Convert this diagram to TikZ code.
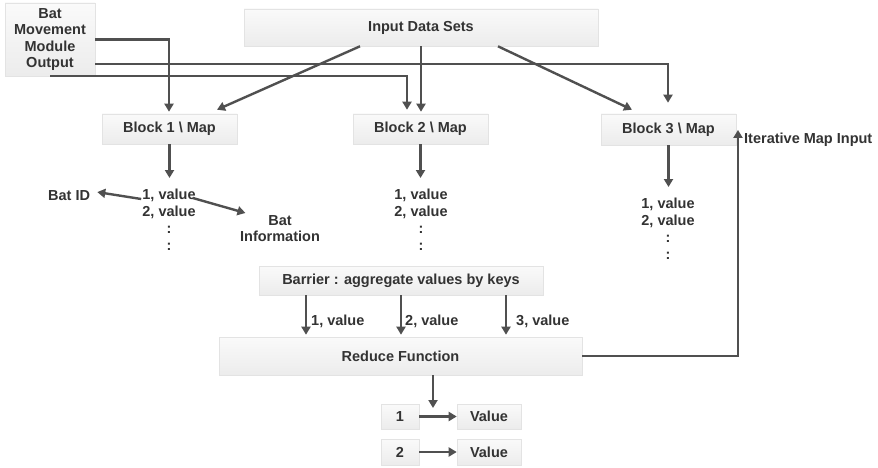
\documentclass[tikz,border=0pt]{standalone}
\usepackage{fontspec}
\setmainfont{Liberation Sans}
\usetikzlibrary{arrows.meta,calc}
\definecolor{ink}{HTML}{333333}
\definecolor{wire}{HTML}{505050}
\tikzset{
  box/.style={rectangle, draw=gray!22, line width=0.6pt, top color=gray!4, bottom color=gray!15,
    inner sep=0pt, text=ink, font=\fontsize{14.5pt}{16.5pt}\selectfont\bfseries, align=center},
  txt/.style={inner sep=0pt, text=ink, font=\fontsize{14.5pt}{16.8pt}\selectfont\bfseries, align=center},
  arr/.style={draw=wire, line width=2.4pt, -{Triangle[length=8pt,width=9pt]}},
}
\begin{document}
\begin{tikzpicture}[x=1pt,y=-1pt]
\fill[white] (0,0) rectangle (878,468);
\useasboundingbox (0,0) rectangle (878,468);

% boxes
\node[box, minimum width=90pt, minimum height=73pt] (bat) at (50,39.5) {Bat\\Movement\\Module\\Output};
\node[box, minimum width=354pt, minimum height=37pt] (input) at (421,27.5) {Input Data Sets};
\node[box, minimum width=135pt, minimum height=30pt] (b1) at (169.5,129) {Block 1 \textbackslash{} Map};
\node[box, minimum width=135pt, minimum height=30pt] (b2) at (420.5,129) {Block 2 \textbackslash{} Map};
\node[box, minimum width=135pt, minimum height=31pt] (b3) at (668.5,129.5) {Block 3 \textbackslash{} Map};
\node[box, minimum width=284pt, minimum height=29pt] (barrier) at (401,280.5) {Barrier : aggregate values by keys};
\node[box, minimum width=363pt, minimum height=38pt] (reduce) at (400.5,356) {Reduce Function};
\node[box, minimum width=38pt, minimum height=25pt] (k1) at (400,416.5) {1};
\node[box, minimum width=64pt, minimum height=25pt] (v1) at (489,416.5) {Value};
\node[box, minimum width=38pt, minimum height=26pt] (k2) at (400,452) {2};
\node[box, minimum width=64pt, minimum height=26pt] (v2) at (489,452) {Value};

% map outputs
\node[txt, anchor=north] (o1) at (169,189) {1, value\\2, value\\:\\:};
\node[txt, anchor=north] (o2) at (421,189) {1, value\\2, value\\:\\:};
\node[txt, anchor=north] (o3) at (668,198) {1, value\\2, value\\:\\:};
\node[txt, anchor=base west] (batid) at (48,200.5) {Bat ID};
\node[txt, anchor=north] (binfo) at (280,215) {Bat\\Information};
\node[txt, anchor=base west] (iter) at (744,143) {Iterative Map Input};

% inputs to the map blocks
\draw[arr] (bat.east) -| ([shift={(-0.5,-2)}]b1.north);
\draw[arr] ([shift={(0,24.5)}]bat.east) -| ([shift={(-0.5,-11)}]b3.north);
\draw[arr] (bat.south) -| ([shift={(-13.5,-4)}]b2.north);
\draw[arr] ([shift={(-61,0)}]input.south) -- ([shift={(47.5,-4)}]b1.north);
\draw[arr, shorten >=2pt] (input.south) -- (input.south |- b2.north);
\draw[arr] ([shift={(77,0)}]input.south) -- ([shift={(-36.5,-4)}]b3.north);

% map block outputs
\draw[arr, shorten >=11pt] (b1.south) -- (b1.south |- o1.north);
\draw[arr, shorten >=11pt] (b2.south) -- (b2.south |- o2.north);
\draw[arr, shorten >=11pt] (b3.south) -- (b3.south |- o3.north);
\draw[arr] ([shift={(-1,10)}]o1.north west) -- ([shift={(7,-3.5)}]batid.east);
\draw[arr] ([shift={(-3,9)}]o1.north east) -- ([shift={(5.5,-2)}]binfo.north west);

% barrier to reduce
\draw[arr, shorten >=2pt] ([shift={(-95,0)}]barrier.south) coordinate (s1) -- (s1 |- reduce.north)
  node[txt, anchor=west, pos=0.62, xshift=4pt] {1, value};
\draw[arr, shorten >=2pt] (barrier.south) coordinate (s2) -- (s2 |- reduce.north)
  node[txt, anchor=west, pos=0.62, xshift=3pt] {2, value};
\draw[arr, shorten >=2pt] ([shift={(105,0)}]barrier.south) coordinate (s3) -- (s3 |- reduce.north)
  node[txt, anchor=west, pos=0.62, xshift=9pt] {3, value};

% reduce results
\draw[arr, shorten >=8.5pt] ([shift={(32.5,0)}]reduce.south) coordinate (r0) -- (r0 |- k1.center);
\draw[arr] (k1) -- (v1);
\draw[arr] (k2) -- (v2);

% feedback loop
\draw[arr] (reduce.east) -| ([shift={(-6,-9.3)}]iter.west);
\end{tikzpicture}
\end{document}
